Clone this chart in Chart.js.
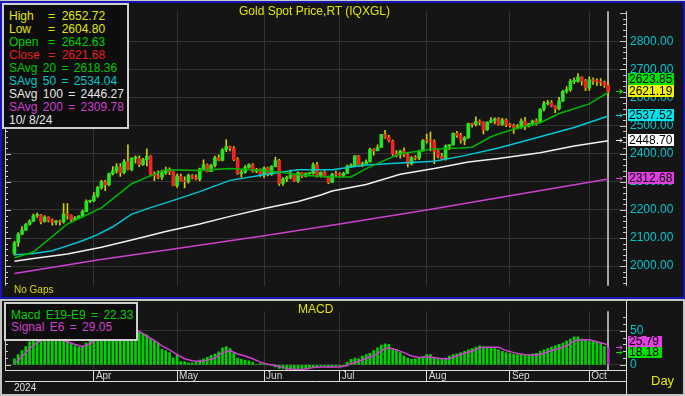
<!DOCTYPE html>
<html>
<head>
<meta charset="utf-8">
<title>Gold Spot Price,RT (IQXGL)</title>
<script src="https://cdn.jsdelivr.net/npm/chart.js@4.4.1/dist/chart.umd.min.js"></script>
<style>
  html, body { margin: 0; padding: 0; background: #151515; }
  body { position: relative; width: 685px; height: 396px; overflow: hidden; font-family: "Liberation Sans", Arial, sans-serif; }
  canvas, .abs { position: absolute; }
  #mainChart { left: 0; top: 0; }
  #macdChart { left: 0; top: 300px; }
  .frame { box-sizing: border-box; pointer-events: none; }
  .box { box-sizing: border-box; background: #0d0d0d; border: 2px solid #cfcfcf; font-size: 12px; }
  .box div { white-space: pre; }
  .k { display: inline-block; width: 39px; }
  .sa { word-spacing: 2px; }
  .lbl { white-space: pre; }
</style>
</head>
<body>
<canvas id="mainChart" width="685" height="297"></canvas>
<canvas id="macdChart" width="685" height="96"></canvas>

<div class="abs frame" style="left:0;top:0;width:685px;height:1px;background:#c8c8c8"></div>
<div class="abs frame" style="left:0;top:1px;width:685px;height:298px;border:2px solid #1616b4"></div>
<div class="abs frame" style="left:0;top:299px;width:685px;height:97px;border:2px solid #c4c4c4"></div>

<div class="abs lbl" style="left:239px;top:4px;font-size:12px;color:#e4e400">Gold Spot Price,RT (IQXGL)</div>
<div class="abs lbl" style="left:14px;top:284px;font-size:10px;color:#d8d800">No Gaps</div>
<div class="abs lbl" style="left:298px;top:302px;font-size:12px;color:#e4e400">MACD</div>
<div class="abs lbl" style="left:14px;top:382px;font-size:10px;color:#e0e0e0">2024</div>
<div class="abs lbl" style="left:651px;top:373px;font-size:13px;color:#e8e800">Day</div>

<div class="abs box" style="left:2px;top:3px;width:127px;height:126px;padding:5px 0 0 5px;line-height:13px"><div style="color:#e8e800"><span class="k">High</span>=  2652.72</div><div style="color:#e8e800"><span class="k">Low</span>=  2604.80</div><div style="color:#00d000"><span class="k">Open</span>=  2642.63</div><div style="color:#e82020"><span class="k">Close</span>=  2621.68</div><div class="sa" style="color:#00c800">SAvg 20 = 2618.36</div><div class="sa" style="color:#00c8c8">SAvg 50 = 2534.04</div><div class="sa" style="color:#e8e8e8">SAvg 100 = 2446.27</div><div class="sa" style="color:#d040d0">SAvg 200 = 2309.78</div><div style="color:#e8e8e8">10/ 8/24</div></div>

<div class="abs box" style="left:4px;top:302px;width:134px;height:39px;padding:6px 0 0 5px;line-height:11.5px"><div class="sa" style="color:#00d000">Macd E19-E9 = 22.33</div><div class="sa" style="color:#d040d0">Signal E6 = 29.05</div></div>

<script>
// trading days shown on the chart (Mar 1 - Oct 8, 2024)
const dates = [
  '03/01','03/04','03/05','03/06','03/07','03/08','03/11','03/12','03/13','03/14','03/15','03/18','03/19','03/20','03/21','03/22','03/25','03/26','03/27','03/28','03/29',
  '04/01','04/02','04/03','04/04','04/05','04/08','04/09','04/10','04/11','04/12','04/15','04/16','04/17','04/18','04/19','04/22','04/23','04/24','04/25','04/26','04/29','04/30',
  '05/01','05/02','05/03','05/06','05/07','05/08','05/09','05/10','05/13','05/14','05/15','05/16','05/17','05/20','05/21','05/22','05/23','05/24','05/27','05/28','05/29','05/30','05/31',
  '06/03','06/04','06/05','06/06','06/07','06/10','06/11','06/12','06/13','06/14','06/17','06/18','06/19','06/20','06/21','06/24','06/25','06/26','06/27','06/28',
  '07/01','07/02','07/03','07/04','07/05','07/08','07/09','07/10','07/11','07/12','07/15','07/16','07/17','07/18','07/19','07/22','07/23','07/24','07/25','07/26','07/29','07/30','07/31',
  '08/01','08/02','08/05','08/06','08/07','08/08','08/09','08/12','08/13','08/14','08/15','08/16','08/19','08/20','08/21','08/22','08/23','08/26','08/27','08/28','08/29','08/30',
  '09/02','09/03','09/04','09/05','09/06','09/09','09/10','09/11','09/12','09/13','09/16','09/17','09/18','09/19','09/20','09/23','09/24','09/25','09/26','09/27','09/30',
  '10/01','10/02','10/03','10/04','10/07','10/08'
];
const monthNames = ['Apr', 'May', 'Jun', 'Jul', 'Aug', 'Sep', 'Oct'];

const opens = [
  2044,2083,2114,2128,2148,2159,2179,2182,2158,2174,2162,2155,2160,2157,2186,2181,2165,2172,2178,2194,2230,
  2233,2250,2280,2300,2290,2329,2339,2352,2333,2372,2344,2383,2383,2361,2379,2391,2327,2322,2316,2332,2337,2335,
  2286,2320,2303,2301,2323,2314,2309,2346,2360,2336,2358,2385,2376,2414,2425,2420,2379,2329,2334,2351,2361,2338,2343,
  2327,2350,2326,2355,2375,2294,2310,2316,2324,2302,2333,2319,2329,2329,2360,2322,2334,2319,2298,2327,
  2326,2323,2330,2356,2356,2392,2359,2364,2371,2415,2411,2422,2469,2459,2445,2400,2396,2409,2397,2364,2386,2384,2410,
  2447,2446,2443,2409,2390,2382,2427,2431,2472,2465,2447,2456,2507,2504,2514,2512,2484,2512,2518,2524,2504,2520,
  2503,2500,2493,2494,2516,2497,2506,2516,2512,2558,2578,2582,2569,2559,2587,2622,2628,2657,2657,2672,2658,
  2634,2663,2659,2656,2653,2642.63
];
const highs = [
  2088,2119,2141,2152,2165,2185,2189,2184,2180,2175,2167,2163,2164,2222,2222,2182,2176,2180,2199,2236,2235,
  2262,2284,2305,2305,2331,2354,2365,2365,2379,2431,2386,2392,2392,2383,2417,2393,2335,2339,2342,2352,2350,2336,
  2327,2327,2318,2327,2326,2325,2349,2378,2364,2362,2391,2396,2418,2450,2427,2425,2386,2341,2358,2364,2365,2348,2346,
  2353,2352,2358,2388,2380,2315,2320,2342,2325,2335,2334,2332,2333,2367,2369,2335,2338,2320,2330,2338,
  2332,2334,2359,2364,2393,2394,2370,2378,2420,2418,2431,2469,2483,2465,2448,2411,2412,2421,2402,2390,2393,2413,2450,
  2470,2477,2449,2413,2401,2431,2432,2474,2479,2472,2461,2509,2509,2531,2520,2513,2513,2528,2527,2528,2526,2524,
  2508,2505,2504,2524,2529,2508,2519,2524,2560,2586,2590,2589,2570,2600,2625,2639,2664,2670,2685,2673,2664,
  2673,2670,2666,2667,2658,2652.72
];
const lows = [
  2039,2070,2111,2127,2146,2158,2173,2150,2156,2157,2146,2147,2146,2153,2167,2157,2163,2168,2174,2193,2226,
  2229,2244,2274,2268,2285,2324,2331,2319,2329,2342,2339,2366,2354,2358,2356,2321,2304,2311,2308,2326,2325,2285,
  2280,2302,2278,2295,2310,2307,2303,2342,2335,2336,2353,2374,2374,2407,2410,2375,2326,2316,2331,2348,2334,2332,2319,
  2315,2321,2323,2353,2287,2287,2300,2310,2301,2298,2315,2317,2326,2327,2316,2316,2316,2293,2297,2318,
  2318,2316,2329,2352,2355,2355,2354,2363,2370,2395,2410,2421,2454,2442,2394,2388,2384,2389,2353,2360,2378,2379,2409,
  2437,2410,2364,2385,2378,2377,2414,2430,2458,2437,2432,2454,2494,2499,2502,2470,2483,2509,2506,2501,2500,2496,
  2494,2472,2488,2490,2485,2495,2501,2501,2509,2552,2573,2566,2546,2556,2586,2615,2621,2649,2654,2644,2624,
  2625,2646,2643,2642,2636,2604.80
];
const closes = [
  2083,2114,2128,2148,2159,2179,2182,2158,2174,2162,2155,2160,2157,2186,2181,2165,2172,2178,2194,2230,2233,
  2250,2280,2300,2290,2329,2339,2352,2333,2372,2344,2383,2383,2361,2379,2391,2327,2322,2316,2332,2337,2335,2286,
  2320,2303,2301,2323,2314,2309,2346,2360,2336,2358,2385,2376,2414,2425,2420,2379,2329,2334,2351,2361,2338,2343,2327,
  2350,2326,2355,2375,2294,2310,2316,2324,2302,2333,2319,2329,2329,2360,2322,2334,2319,2298,2327,2326,
  2323,2330,2356,2356,2392,2359,2364,2371,2415,2411,2422,2469,2459,2445,2400,2396,2409,2397,2364,2386,2384,2410,2447,
  2446,2443,2409,2390,2382,2427,2431,2472,2465,2447,2456,2507,2504,2514,2512,2484,2512,2518,2524,2504,2520,2503,
  2500,2493,2494,2516,2497,2506,2516,2512,2558,2578,2582,2569,2559,2587,2622,2628,2657,2657,2672,2658,2634,
  2663,2659,2656,2653,2643,2621.68
];

// moving averages at a few days each
const sma20Days = [0, 5, 14, 23, 31, 37, 40, 49, 57, 66, 71, 76, 84, 89, 93, 98, 102, 111, 118, 121, 126, 128, 132, 139, 144, 148, 152, 157];
const sma20 = [2030, 2050, 2150, 2207, 2293, 2327, 2343, 2340, 2347, 2340, 2333, 2323, 2317, 2317, 2347, 2377, 2400, 2417, 2420, 2423, 2460, 2470, 2487, 2510, 2543, 2560, 2577, 2618];
const sma50Days = [0, 5, 10, 14, 18, 22, 26, 31, 36, 40, 49, 57, 66, 75, 84, 93, 102, 111, 119, 128, 139, 148, 157];
const sma50 = [2040, 2045, 2055, 2072, 2090, 2112, 2140, 2185, 2208, 2225, 2265, 2305, 2325, 2343, 2343, 2360, 2367, 2373, 2393, 2420, 2460, 2493, 2534];
const sma100Days = [0, 5, 14, 23, 31, 40, 49, 57, 66, 75, 81, 84, 93, 102, 111, 120, 128, 139, 148, 157];
const sma100 = [2017, 2027, 2043, 2067, 2093, 2123, 2150, 2177, 2205, 2230, 2253, 2267, 2290, 2327, 2347, 2370, 2383, 2403, 2427, 2446];
const sma200Days = [0, 22, 43, 66, 86, 109, 131, 152, 157];
const sma200 = [1974, 2022, 2063, 2108, 2150, 2200, 2250, 2298, 2310];

// MACD E19-E9 histogram, one bar per day
const macd = [
  9,15,21,27,34,39,43,43,44,43, 41,38,36,36,35,31,28,26,27,32,
  36,40,45,49,50,54,57,60,58,61, 58,60,58,49,46,44,38,35,32,23,
  21,18,10,14,5,5,3,3,4,7, 9,11,14,16,19,25,27,24,17,10,
  8,7,6,4,1,2,2,0,0,-3, -5,-5,-7,-7,-7,-7,-6,-5,-4,-4,
  -3,-2,-2,-3,-3,-2,-1,-1,4,8, 10,9,13,15,17,21,25,29,31,30,
  24,23,18,13,10,8,9,10,12,15, 15,11,9,8,10,13,15,16,18,20,
  22,24,26,28,27,26,25,24,22,20, 18,17,16,15,15,15,15,16,17,20,
  22,24,26,28,30,32,35,38,41,41, 38,37,35,35,34,32,27,25
];
const signalDays = [0,2,4,6,8,10,12,14,16,18,20,22,24,26,28,30,32,33,35,37,39,41,43,45,47,49,51,53,55,57,59,61,63,65,67,69,71,73,75,77,79,81,83,86,88,89,91,93,95,96,98,99,101,103,105,107,109,111,113,115,117,119,121,123,125,128,130,132,135,138,140,142,144,146,148,150,152,154,156,157];
const signal = [2,12,24,33,38,39,37,34,30,27,31,38,45,52,56,57,53,49,42,36,28,22,15,9,6,5,7,10,18,21,16,13,9,4,1,-1,-4,-6,-7,-6,-4,-3,-3,-3,-1,2,5,10,13,17,24,25,22,18,13,11,12,11,9,9,13,17,20,25,26,26,21,18,15,14,17,21,24,28,35,37,37,34,31,29];

// last-value tags on the right axes
const priceTags = [2623.85, 2621.19, 2537.52, 2448.70, 2312.68];
const priceTagColors = ['#00e000', '#f0f000', '#00e4ec', '#ffffff', '#e040e0'];
const macdTags = [25.79, 18.18];
const macdTagColors = ['#e040e0', '#00e000'];
const priceLabelMax = 2800;

const FONT = '"Liberation Sans", Arial, sans-serif';
Chart.defaults.font.family = FONT;

const X_MIN = -2.5, X_MAX = 161.7;
const cursorDay = dates.length - 1;
const monthStarts = [];
dates.forEach((d, i) => {
  if (i > 0 && d.slice(0, 2) !== dates[i - 1].slice(0, 2)) monthStarts.push(i);
});

const pts = (days, vals) => days.map((d, i) => ({ x: d, y: vals[i] }));

function drawFrameTicks(chart, major) {
  const { ctx, chartArea: a, scales: { y } } = chart;
  ctx.save();
  ctx.strokeStyle = '#c8c8c8';
  ctx.lineWidth = 1;
  ctx.beginPath();
  ctx.moveTo(a.left + 0.5, a.top);
  ctx.lineTo(a.left + 0.5, a.bottom);
  y.ticks.forEach(t => {
    const py = Math.round(y.getPixelForValue(t.value)) + 0.5;
    const len = t.value % major === 0 ? 6 : 3;
    ctx.moveTo(a.left, py); ctx.lineTo(a.left + len, py);
    ctx.moveTo(a.right - len, py); ctx.lineTo(a.right, py);
  });
  ctx.stroke();
  ctx.restore();
}

function drawCursor(chart) {
  const { ctx, chartArea: a, scales: { x } } = chart;
  const cx = Math.round(x.getPixelForValue(cursorDay));
  ctx.save();
  ctx.fillStyle = '#a4a4a4';
  ctx.fillRect(cx - 1, a.top, 2, a.bottom - a.top);
  ctx.restore();
}

// value tags: keep the lowest at its value, push the others up so they don't overlap
function drawTags(chart, values, colors, boxW, boxH) {
  const { ctx, chartArea: a, scales: { y } } = chart;
  const items = values.map((v, i) => ({ v, color: colors[i], py: y.getPixelForValue(v) }))
    .sort((p, q) => q.py - p.py);
  let prev = Infinity;
  ctx.save();
  ctx.font = '12px ' + FONT;
  ctx.textBaseline = 'middle';
  items.forEach(it => {
    const cy = Math.min(it.py, prev - boxH);
    prev = cy;
    const ay = Math.round(it.py) + 0.5;
    ctx.strokeStyle = it.color;
    ctx.lineWidth = 1;
    ctx.beginPath();
    ctx.moveTo(a.right - 10, ay); ctx.lineTo(a.right - 4, ay);
    ctx.moveTo(a.right - 6, ay - 2); ctx.lineTo(a.right - 4, ay); ctx.lineTo(a.right - 6, ay + 2);
    ctx.stroke();
    ctx.fillStyle = it.color;
    ctx.fillRect(a.right + 2, Math.round(cy - boxH / 2), boxW, boxH);
    ctx.fillStyle = '#000';
    ctx.fillText(it.v.toFixed(2), a.right + 3, Math.round(cy) + 1);
  });
  ctx.restore();
}

const mainDecor = {
  id: 'mainDecor',
  beforeDatasetsDraw(chart) { drawCursor(chart); },
  afterDatasetsDraw(chart) { drawFrameTicks(chart, 100); },
  afterDraw(chart) { drawTags(chart, priceTags, priceTagColors, 46, 12); }
};

const macdDecor = {
  id: 'macdDecor',
  beforeDatasetsDraw(chart) { drawCursor(chart); },
  afterDatasetsDraw(chart) {
    drawFrameTicks(chart, 50);
    const { ctx, chartArea: a } = chart;
    ctx.save();
    ctx.strokeStyle = '#e0e0e0';
    ctx.lineWidth = 1;
    ctx.beginPath();
    ctx.moveTo(a.left, a.bottom + 11.5); ctx.lineTo(a.right, a.bottom + 11.5);
    ctx.moveTo(a.right + 0.5, 0); ctx.lineTo(a.right + 0.5, chart.height);
    ctx.stroke();
    ctx.restore();
  },
  afterDraw(chart) { drawTags(chart, macdTags, macdTagColors, 34, 11); }
};

const UP = '#22e622', DOWN = '#f02424', WICK = '#d0d000';

new Chart(document.getElementById('mainChart'), {
  type: 'bar',
  data: {
    datasets: [
      { type: 'line', data: pts(sma20Days, sma20), borderColor: '#00b800', borderWidth: 1.5, pointRadius: 0, order: 1 },
      { type: 'line', data: pts(sma50Days, sma50), borderColor: '#00c8d8', borderWidth: 1.5, pointRadius: 0, order: 2 },
      { type: 'line', data: pts(sma100Days, sma100), borderColor: '#f0f0f0', borderWidth: 1.5, pointRadius: 0, order: 3 },
      { type: 'line', data: pts(sma200Days, sma200), borderColor: '#d040d0', borderWidth: 1.5, pointRadius: 0, order: 4 },
      {
        data: dates.map((d, i) => ({ x: i, y: [opens[i], closes[i]] })),
        backgroundColor: closes.map((c, i) => (c >= opens[i] ? UP : DOWN)),
        barThickness: 3, minBarLength: 1, grouped: false, order: 5
      },
      {
        data: dates.map((d, i) => ({ x: i, y: [lows[i], highs[i]] })),
        backgroundColor: WICK, barThickness: 1, grouped: false, order: 6
      }
    ]
  },
  options: {
    responsive: false,
    animation: false,
    devicePixelRatio: 1,
    layout: { padding: { left: 5, top: 3, right: 0, bottom: 1 } },
    plugins: { legend: { display: false }, tooltip: { enabled: false } },
    scales: {
      x: {
        type: 'linear', min: X_MIN, max: X_MAX, offset: false,
        afterBuildTicks: s => { s.ticks = monthStarts.map(v => ({ value: v })); },
        afterFit: s => { s.height = 0; },
        ticks: { display: false },
        grid: { color: '#333333', drawTicks: false, offset: false },
        border: { display: false }
      },
      y: {
        position: 'right', min: 1930, max: 2906.7,
        afterFit: s => { s.width = 59; },
        ticks: {
          stepSize: 20, includeBounds: false, autoSkip: false, padding: 4,
          color: '#00c8d0', font: { size: 12 },
          callback: v => (v % 100 === 0 && v <= priceLabelMax ? v.toFixed(2) : '')
        },
        grid: {
          drawTicks: false,
          color: c => (c.tick && c.tick.value % 100 === 0 && c.tick.value <= priceLabelMax ? '#333333' : 'rgba(0,0,0,0)')
        },
        border: { color: '#c8c8c8' }
      }
    }
  },
  plugins: [mainDecor]
});

new Chart(document.getElementById('macdChart'), {
  type: 'bar',
  data: {
    datasets: [
      { type: 'line', data: pts(signalDays, signal), borderColor: '#d040d0', borderWidth: 1.5, pointRadius: 0, order: 1 },
      {
        data: macd.map((v, i) => ({ x: i, y: v })),
        backgroundColor: macd.map((v, i) => (i === cursorDay ? '#c030c0' : '#00d400')),
        barThickness: 2, grouped: false, order: 2
      }
    ]
  },
  options: {
    responsive: false,
    animation: false,
    devicePixelRatio: 1,
    layout: { padding: { left: 5, top: 1, right: 0, bottom: 0 } },
    plugins: { legend: { display: false }, tooltip: { enabled: false } },
    scales: {
      x: {
        type: 'linear', min: X_MIN, max: X_MAX, offset: false,
        afterBuildTicks: s => { s.ticks = monthStarts.map(v => ({ value: v })); },
        afterFit: s => { s.height = 26; },
        ticks: {
          autoSkip: false, maxRotation: 0, align: 'start', padding: -11, labelOffset: 2,
          color: '#d8d8d8', font: { size: 10 },
          callback: v => monthNames[monthStarts.indexOf(v)]
        },
        grid: { color: '#333333', tickColor: '#e0e0e0', tickLength: 11, offset: false },
        border: { color: '#e0e0e0' }
      },
      y: {
        position: 'right', min: -7.5, max: 78.75,
        afterFit: s => { s.width = 59; },
        ticks: {
          stepSize: 10, includeBounds: false, autoSkip: false, padding: 4,
          color: '#00c8d0', font: { size: 12 },
          callback: v => (v % 50 === 0 ? String(v) : '')
        },
        grid: { drawTicks: false, color: c => (c.tick && c.tick.value % 50 === 0 ? '#333333' : 'rgba(0,0,0,0)') },
        border: { color: '#c8c8c8' }
      }
    }
  },
  plugins: [macdDecor]
});
</script>
</body>
</html>
